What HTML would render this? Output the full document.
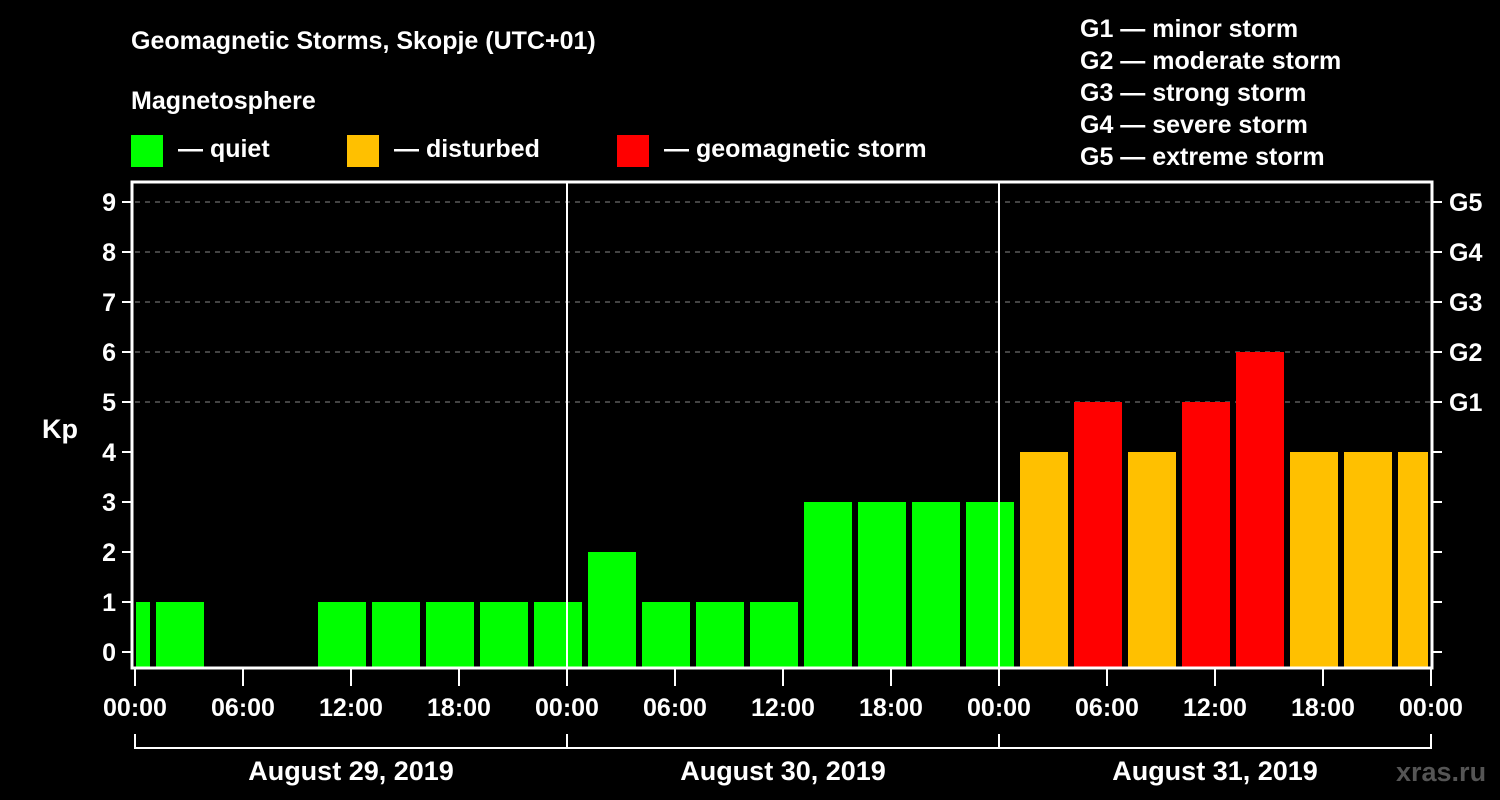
<!DOCTYPE html>
<html><head><meta charset="utf-8"><style>
html,body{margin:0;padding:0;background:#000;}
svg{display:block;font-family:"Liberation Sans",sans-serif;font-weight:bold;}
</style></head><body>
<svg id="chart" width="1500" height="800" viewBox="0 0 1500 800">
<rect width="1500" height="800" fill="#000"/>
<text x="131" y="49" fill="#fff" font-size="25">Geomagnetic Storms, Skopje (UTC+01)</text>
<text x="131" y="109" fill="#fff" font-size="25">Magnetosphere</text>
<g><rect x="131" y="135" width="32" height="32" fill="#00ff00"/><text x="178" y="157" fill="#fff" font-size="25">— quiet</text></g>
<g><rect x="347" y="135" width="32" height="32" fill="#ffc000"/><text x="394" y="157" fill="#fff" font-size="25">— disturbed</text></g>
<g><rect x="617" y="135" width="32" height="32" fill="#ff0000"/><text x="664" y="157" fill="#fff" font-size="25">— geomagnetic storm</text></g>
<g fill="#fff" font-size="25">
<text x="1080" y="37">G1 — minor storm</text>
<text x="1080" y="69">G2 — moderate storm</text>
<text x="1080" y="101">G3 — strong storm</text>
<text x="1080" y="133">G4 — severe storm</text>
<text x="1080" y="165">G5 — extreme storm</text>
</g>
<text x="42" y="438" fill="#fff" font-size="27">Kp</text>
<g id="grid"></g><g id="bars"></g><g id="axes"></g>
<text x="1396" y="781" fill="#555" font-size="27">xras.ru</text>
</svg>
<script>
const kpValues=[1,1,null,null,1,1,1,1,1,2,1,1,1,3,3,3,3,4,5,4,5,6,4,4,4];
const yTicks=[0,1,2,3,4,5,6,7,8,9];
const gLabels=["G1","G2","G3","G4","G5"];
const gLevels=[5,6,7,8,9];
const xTickLabels=["00:00","06:00","12:00","18:00","00:00","06:00","12:00","18:00","00:00","06:00","12:00","18:00","00:00"];
const dayLabels=["August 29, 2019","August 30, 2019","August 31, 2019"];
const NS="http://www.w3.org/2000/svg";
const X0=135,X1=1431,HOURS=72,TOP=182,BOT=668;
const xs=h=>X0+(X1-X0)*h/HOURS;
const ys=v=>652-50*v;
function mk(tag,attrs,parent,text){const e=document.createElementNS(NS,tag);for(const k in attrs)e.setAttribute(k,attrs[k]);if(text!==undefined)e.textContent=text;parent.appendChild(e);return e;}
const grid=document.getElementById('grid'),bars=document.getElementById('bars'),axes=document.getElementById('axes');
gLevels.forEach(v=>{const l=mk('line',{x1:X0,x2:X1,y1:ys(v),y2:ys(v),stroke:'#888','stroke-dasharray':'5,5','stroke-width':1},grid);

});
kpValues.forEach((v,i)=>{if(v===null)return;
const c=3*i-0.5;let a=xs(c-1.5)+3,b=xs(c+1.5)-3;a=Math.max(a,X0+1);b=Math.min(b,X1-3);
const col=v>=5?'#ff0000':(v>=4?'#ffc000':'#00ff00');
const r=mk('rect',{x:a,y:ys(v),width:b-a,height:BOT-ys(v),fill:col},bars);

});
[1,2].forEach(d=>{const l=mk('line',{x1:xs(24*d),x2:xs(24*d),y1:TOP,y2:BOT,stroke:'#fff','stroke-width':2},axes);

});
const fr=mk('rect',{x:X0-3,y:TOP,width:X1-X0+4,height:BOT-TOP,fill:'none',stroke:'#fff','stroke-width':3},axes);


yTicks.forEach(v=>{mk('line',{x1:122,x2:X0-3,y1:ys(v),y2:ys(v),stroke:'#fff','stroke-width':2},axes);
mk('line',{x1:X1+1,x2:1442,y1:ys(v),y2:ys(v),stroke:'#fff','stroke-width':2},axes);
const t=mk('text',{x:116,y:ys(v)+9,fill:'#fff','font-size':25,'text-anchor':'end'},axes,String(v));

});
gLevels.forEach((v,i)=>{const t=mk('text',{x:1449,y:ys(v)+9,fill:'#fff','font-size':25},axes,gLabels[i]);

});
xTickLabels.forEach((s,i)=>{const x=xs(6*i);
mk('line',{x1:x,x2:x,y1:BOT,y2:686,stroke:'#fff','stroke-width':2},axes);
const t=mk('text',{x:x,y:716,fill:'#fff','font-size':25,'text-anchor':'middle'},axes,s);

});
mk('line',{x1:X0,x2:X1,y1:748,y2:748,stroke:'#fff','stroke-width':2},axes);
[0,1,2,3].forEach(d=>mk('line',{x1:xs(24*d),x2:xs(24*d),y1:734,y2:749,stroke:'#fff','stroke-width':2},axes));
dayLabels.forEach((s,i)=>{const t=mk('text',{x:xs(24*i+12),y:780,fill:'#fff','font-size':27,'text-anchor':'middle'},axes,s);

});
</script>
</body></html>
